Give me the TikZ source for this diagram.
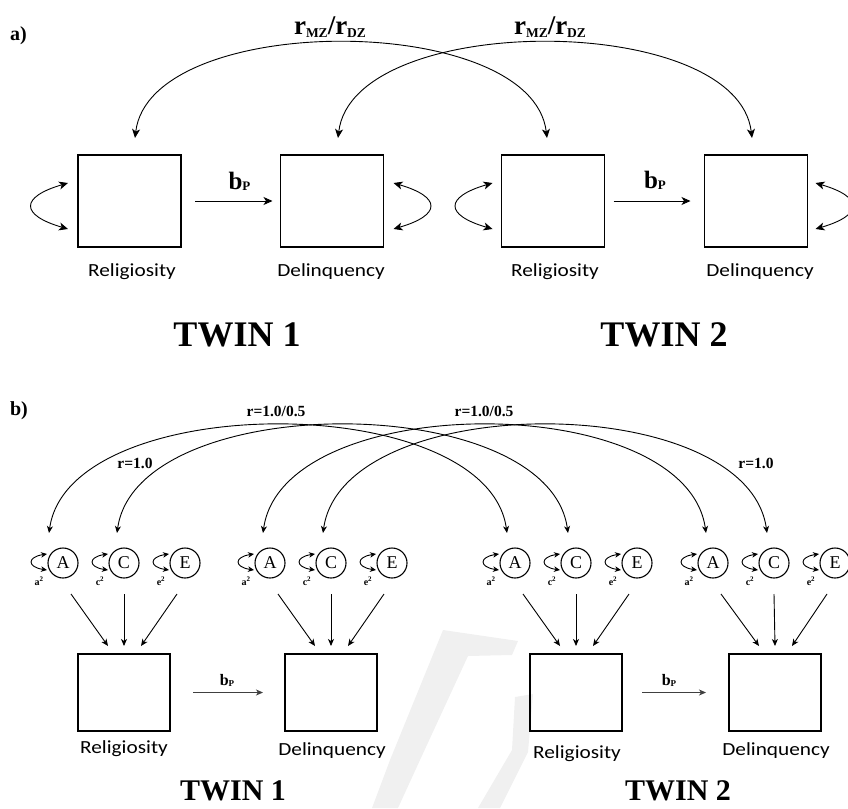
\documentclass[tikz,border=0pt]{standalone}
\usepackage{fontspec}
\setmainfont{Liberation Serif}
\newfontfamily\lblfont[FakeStretch=1.15]{Carlito}
\usetikzlibrary{arrows.meta,calc}

\begin{document}
\begin{tikzpicture}[x=1pt,y=-1pt,
  every node/.style={inner sep=0pt, outer sep=0pt},
  >={Stealth[length=9pt,width=8pt,inset=2.5pt]},
  smallhead/.style={>={Stealth[length=7pt,width=6pt,inset=2pt]}},
  tinyhead/.style={>={Stealth[length=6pt,width=5.5pt,inset=1.8pt]}},
  bigbox/.style={draw, line width=1.3pt, minimum width=103pt, minimum height=92pt},
  smallbox/.style={draw, line width=1.2pt, minimum width=92pt, minimum height=77pt},
  latent/.style={draw, circle, line width=1.1pt, minimum size=30pt,
    font=\fontsize{18}{18}\selectfont},
  varlabel/.style={anchor=base, font=\lblfont\fontsize{18.5}{20}\selectfont},
  twinA/.style={anchor=base, font=\bfseries\fontsize{36}{36}\selectfont},
  twinB/.style={anchor=base, font=\bfseries\fontsize{30}{30}\selectfont},
  panel/.style={anchor=base west, font=\bfseries\fontsize{20}{20}\selectfont},
  corr/.style={anchor=base, font=\bfseries\fontsize{15.5}{16}\selectfont},
  varsq/.style={anchor=base, font=\bfseries\fontsize{10}{10}\selectfont},
  conn/.style={line width=0.9pt},
]
\useasboundingbox (0,0) rectangle (848,808);

% faint background mark
\fill[gray!12] (443,630) -- (518,641) -- (512,655) -- (468,656) -- (420,760)
  -- (398,808) -- (372,808) -- (390,760) -- cycle;
\fill[gray!12] (515,697) -- (533,694) -- (528,752) -- (500,808) -- (478,808)
  -- (512,750) -- cycle;

% ---------------- panel a: phenotypic model ----------------
\node[panel] (pa) at (10,41) {a)};

\node[bigbox] (ra1) at (129.5,201) {};
\node[bigbox] (ra2) at (332,201) {};
\node[bigbox] (ra3) at (553,201) {};
\node[bigbox] (ra4) at (756,201) {};

\node[varlabel] (la1) at (132,276) {Religiosity};
\node[varlabel] (la2) at (331,276) {Delinquency};
\node[varlabel] (la3) at (555,276) {Religiosity};
\node[varlabel] (la4) at (760,276) {Delinquency};

\node[twinA] (ta1) at (237,346) {TWIN 1};
\node[twinA] (ta2) at (664,346) {TWIN 2};

% causal paths
\draw[conn,->,shorten <=14pt,shorten >=8pt] (ra1.east) -- (ra2.west);
\draw[conn,->,shorten <=9pt,shorten >=14pt] (ra3.east) -- (ra4.west);
\node[anchor=base] (bpa1) at (239.5,189)
  {\bfseries\fontsize{25}{25}\selectfont b\raisebox{-1pt}{\fontsize{13}{13}\selectfont P}};
\node[anchor=base] (bpa2) at (655,188)
  {\bfseries\fontsize{25}{25}\selectfont b\raisebox{-1pt}{\fontsize{13}{13}\selectfont P}};

% variances
\draw[conn,<->] ($(ra1.west)+(-10,-18)$) .. controls +(-48,14) and +(-48,-14) .. ($(ra1.west)+(-10,28)$);
\draw[conn,<->] ($(ra2.east)+(10,-18)$) .. controls +(48,14) and +(48,-14) .. ($(ra2.east)+(10,28)$);
\draw[conn,<->] ($(ra3.west)+(-9,-18)$) .. controls +(-48,14) and +(-48,-14) .. ($(ra3.west)+(-9,28)$);
\draw[conn,<->] ($(ra4.east)+(8,-18)$) .. controls +(48,14) and +(48,-14) .. ($(ra4.east)+(8,28)$);

% cross-twin correlations
\draw[conn,<->] ($(ra1.north)+(5.5,-17)$) .. controls +(15,-127) and +(-15,-127) .. ($(ra3.north)+(-6,-17)$);
\draw[conn,<->] ($(ra2.north)+(6,-17)$) .. controls +(15,-127) and +(-15,-127) .. ($(ra4.north)+(-4,-17)$);
\node[anchor=base] (rza) at (330,35)
  {\bfseries\fontsize{27}{27}\selectfont r\raisebox{-2pt}{\fontsize{13.5}{13.5}\selectfont MZ}/r\raisebox{-2pt}{\fontsize{13.5}{13.5}\selectfont DZ}};
\node[anchor=base] (rzb) at (550,35)
  {\bfseries\fontsize{27}{27}\selectfont r\raisebox{-2pt}{\fontsize{13.5}{13.5}\selectfont MZ}/r\raisebox{-2pt}{\fontsize{13.5}{13.5}\selectfont DZ}};

% ---------------- panel b: ACE model ----------------
\node[panel] (pb) at (10,415) {b)};

\foreach \g/\ax/\bx in {1/63/124, 2/270/331, 3/515/576, 4/713/775} {
  \node[latent] (A\g) at (\ax,563) {A};
  \node[latent] (C\g) at (\ax+61,563) {C};
  \node[latent] (E\g) at (\ax+122,563) {E};
  \node[smallbox] (rb\g) at (\bx,692.5) {};
  % paths from the latent factors
  \draw[conn,smallhead,->] ($(A\g.south)+(8,16)$) -- ($(rb\g.north)+(-16,-8)$);
  \draw[conn,smallhead,->] ($(C\g.south)+(0,16)$) -- ($(rb\g.north)+(0,-8)$);
  \draw[conn,smallhead,->] ($(E\g.south)+(-8,16)$) -- ($(rb\g.north)+(17,-8)$);
  % latent variances
  \foreach \f/\s in {A/a, C/c, E/e} {
    \draw[conn,tinyhead,<->] ($(\f\g.west)+(-1,-9)$) .. controls +(-20,3) and +(-20,-3) .. ($(\f\g.west)+(-1,7)$);
    \node[varsq] at ($(\f\g.west)+(-9,22)$) {\s\textsuperscript{2}};
  }
}

\node[varlabel] (lb1) at (124,753) {Religiosity};
\node[varlabel] (lb2) at (332,755) {Delinquency};
\node[varlabel] (lb3) at (577,758) {Religiosity};
\node[varlabel] (lb4) at (776,755) {Delinquency};

\node[twinB] (tb1) at (233,800) {TWIN 1};
\node[twinB] (tb2) at (678,800) {TWIN 2};

% causal paths
\draw[conn,smallhead,->,black!75,shorten <=23pt,shorten >=22pt] (rb1.east) -- (rb2.west);
\draw[conn,smallhead,->,black!75,shorten <=20pt,shorten >=23pt] (rb3.east) -- (rb4.west);
\node[anchor=base] (bpb1) at (227,685)
  {\bfseries\fontsize{16}{16}\selectfont b\raisebox{-1.5pt}{\fontsize{9}{9}\selectfont P}};
\node[anchor=base] (bpb2) at (669,685)
  {\bfseries\fontsize{16}{16}\selectfont b\raisebox{-1.5pt}{\fontsize{9}{9}\selectfont P}};

% cross-twin factor correlations
\draw[conn,smallhead,<->] ($(A1.north)+(-14,-15)$) .. controls +(20,-144) and +(-20,-144) .. ($(A3.north)+(-8,-15)$);
\draw[conn,smallhead,<->] ($(C1.north)+(-7,-15)$) .. controls +(20,-144) and +(-20,-144) .. ($(C3.north)+(-8,-15)$);
\draw[conn,smallhead,<->] ($(A2.north)+(-7,-15)$) .. controls +(20,-144) and +(-20,-144) .. ($(A4.north)+(-7,-15)$);
\draw[conn,smallhead,<->] ($(C2.north)+(-8,-15)$) .. controls +(20,-144) and +(-20,-144) .. ($(C4.north)+(-7,-15)$);

\node[corr] (ca1) at (276,416) {r=1.0/0.5};
\node[corr] (ca2) at (484,416) {r=1.0/0.5};
\node[corr] (cc1) at (135,468) {r=1.0};
\node[corr] (cc2) at (756,468) {r=1.0};
\end{tikzpicture}
\end{document}
